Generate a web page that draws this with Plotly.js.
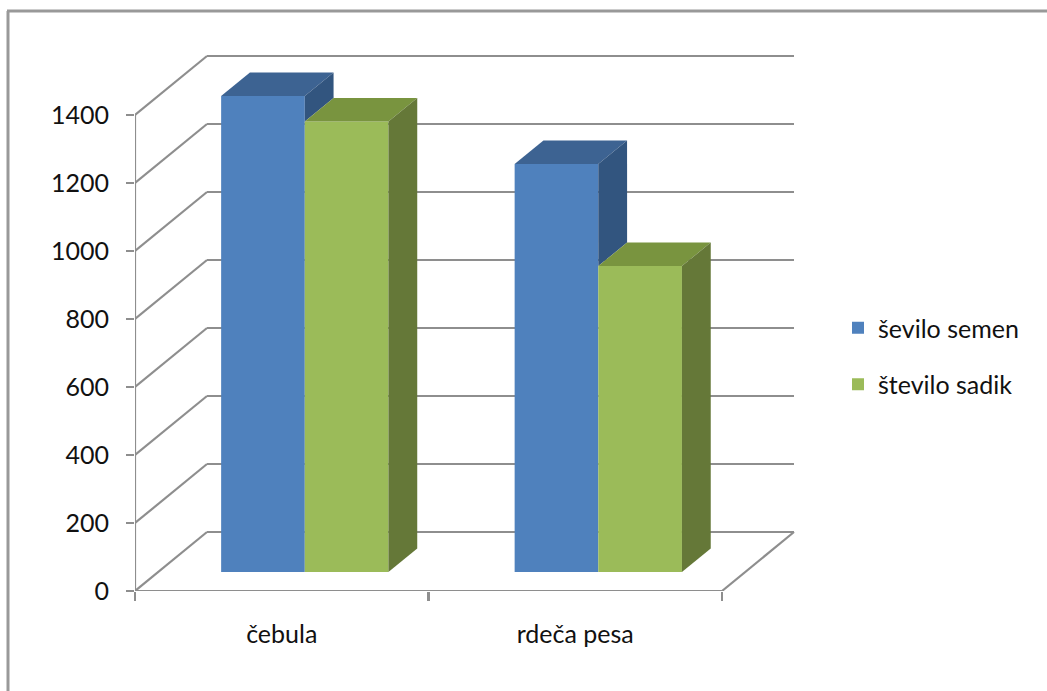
<!DOCTYPE html>
<html>
<head>
<meta charset="utf-8">
<script src="https://cdn.plot.ly/plotly-3.0.1.min.js"></script>
<style>
html,body{margin:0;padding:0;background:#fff;}
#chart{width:1047px;height:691px;}
</style>
</head>
<body>
<div id="chart"></div>
<script>
// ---- data ----
var categories = ['čebula', 'rdeča pesa'];
var seriesNames = ['ševilo semen', 'število sadik'];
var semen = [1400, 1200];
var sadik = [1325, 900];
var yTicks = [0, 200, 400, 600, 800, 1000, 1200, 1400];

// ---- styling / geometry ----
var frontColors = ['#4F81BD', '#9BBB59'];
var topColors = ['#3D6392', '#79943F'];
var sideColors = ['#32557F', '#657838'];
var gridColor = '#8e8e8e';
var FONT = 'Lato, "Open Sans", sans-serif';

var PX_PER_CAT = 293.5;          // pixels per category on the front plane
var PX_PER_UNIT = 0.34;          // pixels per value unit
var DX = 72 / PX_PER_CAT;        // full depth shift in x (category units)
var DY = 59 / PX_PER_UNIT;       // full depth shift in y (value units)
var D0 = 0.32, D1 = 0.72;        // bar depth (fraction of floor depth)
var BW = 0.285;                  // bar width (category units)
var nCat = categories.length;
var series = [semen, sadik];

var traces = [];
var shapes = [];

function line(x0, y0, x1, y1, ref, color, w) {
  shapes.push({type: 'line', xref: ref || 'x', yref: ref || 'y', x0: x0, y0: y0, x1: x1, y1: y1,
    layer: 'below', line: {color: color || gridColor, width: w || 2.2}});
}

// walls / gridlines
yTicks.forEach(function (t) {
  line(0, t, DX, t + DY);
  line(DX, t + DY, nCat + DX, t + DY);
});
// front y axis line and floor
line(0, 0, 0, yTicks[yTicks.length - 1]);
line(0, 0, nCat, 0);
line(nCat, 0, nCat + DX, DY);

// bars (front faces)
series.forEach(function (vals, s) {
  var off = (s - (series.length - 1) / 2) * BW;
  var xs = [], bases = [];
  vals.forEach(function (v, i) {
    xs.push(i + 0.5 + off + D0 * DX);
    bases.push(D0 * DY);
  });
  traces.push({
    type: 'bar', x: xs, y: vals, base: bases, width: BW,
    name: seriesNames[s], legendgroup: 'g' + s,
    marker: {color: frontColors[s], line: {width: 0}},
    hoverinfo: 'skip'
  });
});

// top and side faces
series.forEach(function (vals, s) {
  var off = (s - (series.length - 1) / 2) * BW;
  vals.forEach(function (v, i) {
    var xl = i + 0.5 + off - BW / 2, xr = xl + BW;
    var topY0 = v + D0 * DY, topY1 = v + D1 * DY;
    traces.push({
      type: 'scatter', mode: 'lines', fill: 'toself', showlegend: false, hoverinfo: 'skip',
      legendgroup: 'g' + s,
      x: [xl + D0 * DX, xr + D0 * DX, xr + D1 * DX, xl + D1 * DX, xl + D0 * DX],
      y: [topY0, topY0, topY1, topY1, topY0],
      fillcolor: topColors[s], line: {width: 0, color: topColors[s]}
    });
    var baseV = 0;
    if (s < series.length - 1) baseV = Math.min(v, series[s + 1][i]);
    traces.push({
      type: 'scatter', mode: 'lines', fill: 'toself', showlegend: false, hoverinfo: 'skip',
      legendgroup: 'g' + s,
      x: [xr + D0 * DX, xr + D1 * DX, xr + D1 * DX, xr + D0 * DX, xr + D0 * DX],
      y: [baseV + D0 * DY, baseV + D1 * DY, v + D1 * DY, v + D0 * DY, baseV + D0 * DY],
      fillcolor: sideColors[s], line: {width: 0, color: sideColors[s]}
    });
  });
});

// outer chart border (top and left)
var ML = 135, MR = 247, MT = 40, MB = 100, W = 1047, H = 691;
var pw = W - ML - MR, ph = H - MT - MB;
function px2paperX(px) { return (px - ML) / pw; }
function px2paperY(py) { return (H - MB - py) / ph; }
shapes.push({type: 'line', xref: 'paper', yref: 'paper', x0: px2paperX(7), y0: px2paperY(11),
  x1: px2paperX(W), y1: px2paperY(11), line: {color: '#999999', width: 3}});
shapes.push({type: 'line', xref: 'paper', yref: 'paper', x0: px2paperX(8), y0: px2paperY(11),
  x1: px2paperX(8), y1: px2paperY(H + 5), line: {color: '#999999', width: 3}});

var catCenters = categories.map(function (c, i) { return i + 0.5; });
var catEdges = [];
for (var k = 0; k <= nCat; k++) catEdges.push(k);

var layout = {
  width: W, height: H,
  margin: {l: ML, r: MR, t: MT, b: MB, autoexpand: false},
  paper_bgcolor: '#ffffff', plot_bgcolor: 'rgba(0,0,0,0)',
  barmode: 'overlay',
  showlegend: true,
  font: {family: FONT, size: 25, color: '#111111'},
  xaxis: {
    range: [0, pw / PX_PER_CAT], fixedrange: true,
    tickmode: 'array', tickvals: catCenters, ticktext: categories,
    ticks: '', showgrid: false, zeroline: false, showline: false,
    ticklabelstandoff: 26,
    tickfont: {family: FONT, size: 25, color: '#111111'},
    minor: {tickmode: 'array', tickvals: catEdges, ticks: 'outside', ticklen: 9,
      tickwidth: 2.2, tickcolor: gridColor, showgrid: false}
  },
  yaxis: {
    range: [0, ph / PX_PER_UNIT], fixedrange: true,
    tickmode: 'array', tickvals: yTicks,
    ticks: 'outside', ticklen: 8, tickwidth: 2.2, tickcolor: gridColor,
    showgrid: false, zeroline: false, showline: false,
    ticklabelstandoff: 12,
    tickfont: {family: FONT, size: 25, color: '#111111'}
  },
  legend: {
    x: px2paperX(838), xanchor: 'left', y: px2paperY(356), yanchor: 'middle',
    font: {family: FONT, size: 25, color: '#111111'},
    tracegroupgap: 21, bgcolor: 'rgba(0,0,0,0)', traceorder: 'grouped'
  },
  shapes: shapes
};

Plotly.newPlot('chart', traces, layout, {displayModeBar: false, staticPlot: true});
</script>
</body>
</html>
